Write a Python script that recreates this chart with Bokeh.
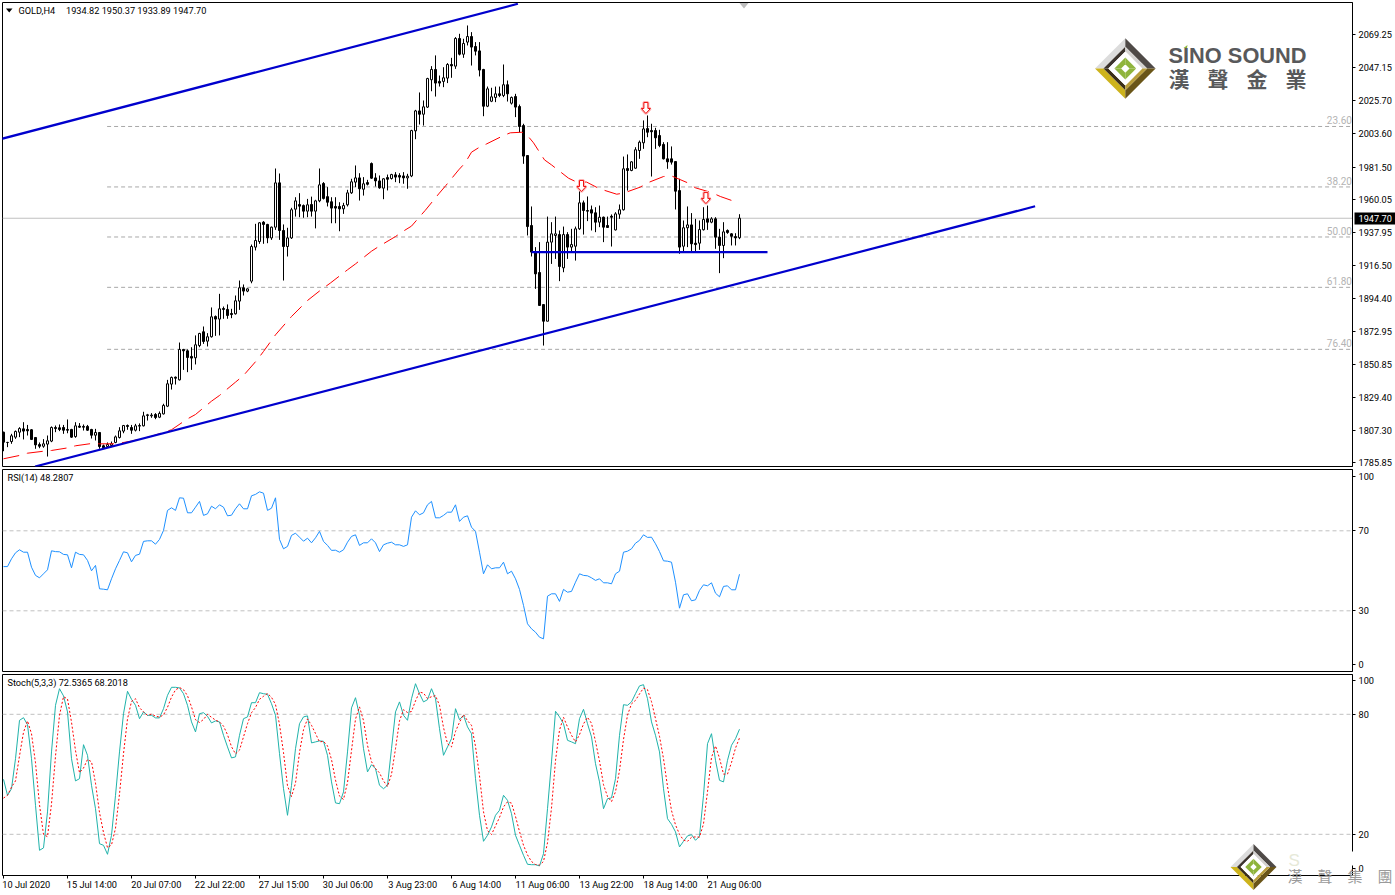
from bokeh.plotting import figure
from bokeh.layouts import column
from bokeh.models import (LinearAxis, FixedTicker, NumeralTickFormatter, Range1d, Label,
                          PolyAnnotation, Span)
from bokeh.embed import file_html
from bokeh.resources import INLINE
from bokeh.core.properties import value

opens = [
1806.2,1799.4,1800.0,1802.9,1806.2,1808.4,1808.0,1807.8,1802.7,1798.0,
1796.9,1798.3,1800.3,1809.3,1809.1,1809.3,1808.0,1808.0,1803.3,1810.2,
1810.0,1810.0,1808.0,1804.2,1806.0,1797.2,1796.7,1797.4,1799.4,1802.7,
1806.9,1810.6,1809.3,1807.5,1810.2,1810.4,1817.2,1817.0,1817.9,1816.1,
1818.3,1823.4,1838.0,1842.6,1840.8,1860.9,1860.0,1856.3,1855.4,1863.5,
1872.6,1866.4,1869.3,1882.7,1881.0,1888.0,1887.4,1884.7,1884.5,1892.9,
1901.7,1899.5,1906.1,1928.6,1932.3,1945.1,1943.6,1934.7,1941.8,1971.1,
1939.6,1929.0,1934.7,1953.7,1956.8,1956.1,1952.4,1956.8,1952.4,1959.2,
1970.7,1962.0,1958.6,1955.5,1955.5,1953.9,1956.6,1964.5,1971.6,1974.4,
1966.9,1971.3,1983.9,1974.4,1972.4,1967.6,1974.6,1974.0,1976.4,1976.0,
1975.7,1974.4,1975.7,2005.5,2018.7,2016.5,2021.2,2039.3,2046.1,2038.2,
2038.2,2040.4,2049.4,2048.3,2066.6,2056.2,2064.2,2067.9,2061.3,2058.4,
2046.1,2021.8,2025.1,2027.6,2030.0,2028.9,2036.0,2023.8,2028.2,2021.6,
2009.0,1989.2,1942.9,1925.3,1911.8,1890.6,1879.6,1931.9,1936.3,1936.9,
1914.9,1936.9,1928.6,1929.2,1940.7,1957.9,1952.8,1953.3,1951.3,1945.1,
1948.4,1942.9,1949.0,1940.0,1950.4,1953.3,1980.6,1979.3,1980.8,1992.5,
1997.6,2007.0,2005.7,2005.7,2002.4,1996.5,1987.0,1987.0,1985.2,1966.0,
1929.2,1941.4,1943.3,1931.2,1931.2,1940.1,1947.3,1945.1,1947.3,1935.2,
1929.7,1939.6,1937.4,1935.6,1934.82]
highs = [
1806.5,1799.8,1805.1,1807.3,1809.5,1812.8,1811.0,1808.2,1802.7,1799.4,
1801.6,1804.0,1810.0,1810.6,1811.3,1811.0,1814.6,1808.4,1812.8,1812.2,
1811.3,1811.0,1808.4,1808.4,1806.2,1798.0,1799.4,1800.0,1804.0,1809.5,
1811.0,1811.3,1811.0,1811.7,1812.0,1819.7,1818.3,1818.8,1818.8,1819.9,
1825.0,1840.8,1843.0,1843.0,1865.5,1861.3,1860.9,1862.4,1870.2,1871.9,
1876.1,1871.7,1888.7,1883.4,1897.7,1889.3,1890.7,1887.8,1896.6,1906.5,
1903.9,1901.3,1930.3,1944.0,1945.1,1945.8,1944.0,1942.2,1980.6,1977.3,
1943.6,1941.4,1954.6,1961.6,1964.3,1956.8,1960.5,1962.0,1959.9,1980.6,
1971.6,1968.3,1961.6,1961.6,1958.3,1957.9,1966.5,1973.8,1982.6,1977.5,
1974.9,1973.1,1984.6,1977.5,1976.0,1974.2,1976.6,1977.1,1978.2,1977.5,
1978.2,1977.1,2006.2,2019.4,2030.9,2025.6,2040.6,2048.3,2055.4,2042.1,
2047.6,2050.3,2053.8,2067.5,2069.7,2066.4,2075.2,2070.8,2064.2,2064.2,
2046.5,2034.8,2034.0,2034.8,2034.8,2049.4,2038.8,2028.2,2030.0,2022.9,
2010.2,1989.2,1955.5,1928.6,1931.9,1890.6,1948.8,1945.1,1948.8,1939.6,
1942.2,1938.5,1940.7,1942.2,1966.0,1959.4,1962.1,1956.1,1955.0,1956.1,
1948.8,1948.8,1950.2,1951.7,1956.8,1988.5,1989.9,1985.5,1994.7,1999.1,
2012.4,2015.7,2010.2,2007.5,2006.2,1998.0,1998.0,1995.2,1985.2,1973.8,
1946.2,1955.5,1951.1,1947.3,1946.2,1955.0,1956.1,1948.4,1948.4,1940.7,
1945.1,1940.3,1937.8,1937.8,1950.37]
lows = [
1793.6,1796.3,1798.5,1801.8,1802.9,1801.4,1804.0,1801.0,1795.2,1795.6,
1795.9,1790.1,1799.6,1806.2,1806.9,1805.1,1805.5,1802.5,1802.5,1809.1,
1807.3,1807.1,1802.0,1800.7,1795.2,1795.0,1795.9,1796.3,1798.9,1802.0,
1805.5,1807.8,1805.1,1806.7,1806.9,1810.0,1813.9,1815.7,1814.8,1815.5,
1817.9,1822.8,1834.4,1837.7,1840.4,1847.4,1845.9,1847.4,1851.0,1862.4,
1864.6,1862.9,1868.8,1869.9,1870.2,1881.2,1881.2,1881.6,1884.0,1887.1,
1896.6,1898.8,1904.7,1926.4,1930.8,1930.8,1931.2,1933.4,1940.0,1933.4,
1906.5,1922.4,1934.0,1948.8,1948.4,1948.0,1948.4,1948.8,1941.0,1958.3,
1960.1,1955.5,1944.4,1944.4,1939.1,1950.6,1955.5,1963.8,1968.3,1959.4,
1962.7,1969.4,1973.8,1968.7,1967.2,1960.3,1966.1,1973.3,1971.6,1970.9,
1970.5,1967.2,1974.9,2000.0,2009.7,2009.0,2020.7,2031.7,2028.2,2034.8,
2034.4,2037.1,2040.6,2046.5,2055.4,2053.8,2062.0,2048.7,2055.4,2041.5,
2015.2,2021.2,2024.5,2024.5,2027.8,2027.8,2024.9,2022.9,2014.6,2004.6,
1983.7,1936.3,1922.4,1901.0,1890.0,1863.5,1879.6,1917.5,1920.8,1906.1,
1912.0,1920.8,1925.3,1919.7,1940.0,1936.9,1945.8,1939.6,1938.5,1941.8,
1931.9,1941.4,1929.0,1939.6,1947.3,1952.8,1966.0,1978.8,1980.4,1987.0,
1993.6,2001.3,1975.3,1993.6,1994.7,1986.6,1980.4,1983.2,1953.5,1924.2,
1925.3,1928.6,1925.9,1925.3,1926.8,1939.6,1940.0,1944.4,1927.5,1911.4,
1921.3,1937.4,1929.7,1929.7,1933.89]
closes = [
1799.6,1799.4,1803.8,1806.7,1808.6,1806.9,1807.1,1801.4,1797.8,1796.9,
1798.5,1800.5,1809.3,1808.6,1808.0,1807.5,1807.5,1802.9,1810.4,1809.5,
1809.5,1807.5,1804.2,1806.0,1796.7,1795.9,1798.0,1798.5,1803.1,1807.1,
1810.6,1810.0,1807.5,1810.4,1810.6,1817.0,1817.7,1817.5,1815.9,1818.6,
1823.9,1838.2,1842.4,1841.9,1860.9,1860.0,1855.6,1855.2,1864.0,1871.5,
1866.2,1869.3,1882.5,1881.0,1887.8,1887.4,1883.4,1884.0,1893.1,1901.7,
1899.5,1901.0,1929.0,1933.0,1944.7,1943.6,1934.7,1941.8,1971.1,1939.6,
1929.0,1934.7,1953.3,1959.2,1955.7,1952.4,1956.6,1952.4,1959.2,1969.8,
1960.8,1958.3,1954.4,1954.4,1953.9,1956.1,1964.5,1971.8,1974.4,1967.2,
1970.5,1970.2,1974.2,1972.4,1967.8,1973.8,1973.5,1976.6,1974.9,1974.9,
1974.4,1975.5,2005.7,2018.7,2016.5,2021.4,2040.1,2046.1,2037.1,2037.1,
2040.6,2049.4,2048.5,2066.6,2056.2,2063.3,2067.9,2060.9,2058.2,2045.7,
2021.8,2033.3,2028.0,2030.0,2028.9,2036.0,2030.0,2027.6,2021.2,2008.4,
1988.8,1942.2,1925.3,1910.9,1890.0,1879.6,1931.9,1937.4,1937.4,1915.8,
1936.9,1928.6,1930.3,1940.7,1957.9,1952.8,1952.4,1951.1,1945.1,1948.4,
1941.8,1941.6,1948.4,1950.6,1953.3,1980.4,1979.3,1985.0,1993.0,1998.0,
2006.8,2004.6,2004.9,2000.9,1995.8,1987.0,1985.0,1984.8,1965.6,1928.6,
1941.4,1943.3,1930.8,1930.3,1940.2,1946.9,1945.1,1947.3,1935.2,1929.7,
1938.7,1938.3,1935.8,1934.7,1947.70]

ma_idx = [0,4,6,10,12,16,18,22,24,28,32,37,42,46,48,52,54,58,60,63.5,65,68,72,76,79.4,
          81.7,86,88,92,93.8,98,99.8,102,103.8,105.4,108.8,110.6,113.8,115.4,117,119,120.8,
          125,126.7,129.6,131,132.5,135.25,137,141.25,143,145.8,149,153.3,155,159.2,161,165,
          167,171.25,173,177,179.2,183.3]
ma_val = [1788.6,1790.8,1792.3,1793.6,1794.1,1795.8,1797.2,1798.7,1798.5,1798.5,1800.3,1803.5,
          1807.8,1815.0,1817.9,1826.7,1830.5,1839.3,1843.7,1854.3,1859.6,1870.6,1882.7,1893.3,1900.4,
          1904.8,1913.6,1917.5,1925.9,1929.0,1935.6,1938.9,1942.5,1948.0,1952.8,1963.8,1969.4,1979.7,
          1984.3,1991.4,1994.7,1996.9,2002.4,2004.2,2004.6,2002.4,1997.6,1986.3,1983.0,1974.2,1972.0,
          1971.6,1967.2,1963.6,1964.3,1968.3,1971.1,1975.3,1975.7,1970.9,1967.8,1964.7,1962.1,1958.3]

rsi = [
52.1,52.1,56.0,59.0,60.5,59.3,59.3,51.8,47.7,46.5,48.5,50.5,60.0,59.6,59.5,58.2,58.0,51.5,59.3,58.2,
58.0,55.2,50.0,52.7,41.0,40.8,40.5,46.0,51.0,55.2,59.5,59.0,54.5,57.7,58.3,64.7,65.0,65.0,63.3,65.7,
70.2,80.2,81.5,80.2,86.5,86.3,79.0,79.0,81.8,84.7,77.7,78.5,82.3,81.0,83.0,81.8,77.5,77.8,81.0,83.5,
81.0,81.0,87.5,88.2,89.5,88.8,80.2,81.3,86.5,65.7,61.0,62.2,67.7,68.8,66.8,64.8,66.3,64.0,66.5,69.7,
64.7,62.7,60.2,60.3,59.3,60.5,64.3,67.2,68.0,62.7,64.0,64.0,66.0,64.0,59.6,63.0,63.8,64.3,63.0,63.0,
62.2,63.0,76.8,80.0,78.0,79.0,83.0,84.7,76.5,76.5,77.7,79.3,79.3,83.0,74.7,76.8,77.5,71.8,69.7,59.3,
48.5,53.0,51.0,51.5,51.5,54.3,48.5,49.8,46.0,40.7,32.7,23.5,21.0,19.3,16.8,16.0,37.3,38.5,38.5,34.7,
40.7,39.3,39.7,44.3,48.5,47.7,47.5,46.5,45.2,46.0,44.0,44.0,43.5,48.5,49.8,59.3,59.8,61.0,63.8,65.2,
68.0,66.7,66.8,63.5,59.6,55.0,54.8,54.3,44.3,31.3,38.0,38.5,35.0,35.5,40.2,43.0,42.5,44.0,38.8,37.0,
42.2,42.5,40.5,40.5,48.28]

stoch_k = [
47.5,39.5,42.8,57.8,77.0,78.3,74.8,57.8,34.5,12.0,13.2,31.2,61.2,84.5,92.8,89.2,81.2,57.8,46.7,47.8,
64.8,59.5,44.5,32.8,15.3,14.5,10.0,19.5,39.5,61.2,80.3,91.5,87.5,84.5,77.8,81.2,79.5,79.5,78.2,78.2,
82.8,89.5,93.5,93.5,93.2,90.3,84.5,76.2,71.2,80.3,80.8,79.0,75.7,76.7,76.2,69.5,63.7,58.2,58.7,69.5,
77.8,78.7,85.8,85.8,90.8,90.3,90.0,85.3,79.5,60.3,42.8,29.5,44.5,62.8,75.3,78.7,79.2,65.7,66.2,66.7,
66.5,59.5,46.2,35.7,35.3,41.2,61.2,83.2,88.3,79.5,62.8,51.2,54.8,52.8,44.5,42.8,44.5,62.8,81.2,86.2,
79.5,77.0,87.8,95.3,90.3,86.2,87.3,92.8,87.8,72.8,59.5,63.7,67.8,82.8,77.3,79.5,73.7,70.3,47.8,29.5,
16.5,19.5,23.7,29.5,32.0,39.5,37.0,30.3,19.5,14.5,9.5,5.0,4.8,4.8,4.2,10.3,32.8,56.2,81.5,78.7,
75.3,67.0,66.2,65.3,77.8,82.5,75.3,68.7,55.3,46.2,32.8,37.8,38.2,47.8,69.5,84.8,84.5,86.2,90.3,94.2,
94.8,87.8,76.2,69.5,61.2,42.8,27.8,25.0,21.2,13.7,16.5,19.2,19.8,17.0,19.0,39.5,65.3,70.3,57.0,47.0,
46.2,57.0,64.5,67.8,72.54]
stoch_d = [
38.1,39.5,43.6,46.7,59.2,71.0,76.7,70.3,55.7,34.8,19.9,18.8,35.2,59.0,79.5,88.8,87.7,76.1,61.9,50.8,
53.1,57.4,56.3,45.6,30.9,20.9,13.3,14.7,23.0,40.1,60.3,77.7,86.4,87.8,83.3,81.2,79.5,80.1,79.1,78.6,
79.7,83.5,88.6,92.2,93.4,92.3,89.3,83.7,77.3,75.9,77.4,80.0,78.5,77.1,76.2,74.1,69.8,63.8,60.2,62.1,
68.7,75.3,80.8,83.4,87.5,89.0,90.4,88.5,84.9,75.0,60.9,44.2,38.9,45.6,60.9,72.3,77.7,74.5,70.4,66.2,
66.5,64.2,57.4,47.1,39.1,37.4,45.9,61.9,77.6,83.7,76.9,64.5,56.3,52.9,50.7,46.7,43.9,50.0,62.8,76.7,
82.3,80.9,81.4,86.7,91.1,90.6,87.9,88.8,89.3,84.5,73.4,65.3,63.7,71.4,76.0,79.9,76.8,74.5,63.9,49.2,
31.3,21.8,19.9,24.2,28.4,33.7,36.2,35.6,28.9,21.4,14.5,9.7,6.4,4.9,4.6,6.4,15.8,33.1,56.8,72.1,
78.5,73.7,69.5,66.2,69.8,75.2,78.5,75.5,66.4,56.7,44.8,38.9,36.3,41.3,51.8,67.4,79.6,85.2,87.0,90.2,
93.1,92.3,86.3,77.8,69.0,57.8,43.9,31.9,24.7,20.0,17.1,16.5,18.5,18.7,18.6,25.2,41.3,58.4,64.2,58.1,
50.1,50.1,55.9,63.1,68.2]

price_ticks = [2069.25,2047.15,2025.70,2003.60,1981.50,1960.05,1937.95,1916.50,1894.40,1872.95,
               1850.85,1829.40,1807.30,1785.85]
fib_names = ["23.60","38.20","50.00","61.80","76.40"]
fib_prices = [2008.4,1968.4,1935.3,1902.0,1861.0]
time_labels = ["10 Jul 2020","15 Jul 14:00","20 Jul 07:00","22 Jul 22:00","27 Jul 15:00","30 Jul 06:00",
               "3 Aug 23:00","6 Aug 14:00","11 Aug 06:00","13 Aug 22:00","18 Aug 14:00","21 Aug 06:00"]
time_ticks = [0,16,32,48,64,80,96,112,128,144,160,176]
time_label_shift = [5.7,6.1,6.2,6.1,6.1,6.1,6.3,6.3,6.75,6.75,6.75,6.75]

upper_idx, upper_val = [-0.5,128.6], [2000.2,2089.6]
lower_idx, lower_val = [7.9,257.9], [1783.5,1955.6]
neck_idx, neck_val = [132,191], [1925.3,1925.3]
arrow_idx = [160.6,144.5,175.6]
arrow_tip = [2017.0,1965.4,1957.4]
last_price = 1947.70

FONT = "Roboto"
FS = "9.2px"
PX_W = 1350
X0, X1 = -0.25, 337.25
xr = Range1d(X0, X1)
MAIN_Y = (1783.5, 2090.4)
BLUE = "#0000cd"

def make(frame_h, yr, top, bottom):
    p = figure(frame_width=PX_W, frame_height=frame_h, x_range=xr, y_range=Range1d(*yr),
               output_backend="svg", toolbar_location=None, x_axis_location=None,
               y_axis_location="right", min_border_left=2, min_border_right=43,
               min_border_top=top, min_border_bottom=bottom,
               background_fill_color="white", border_fill_color="white")
    p.grid.visible = False
    p.outline_line_color = "black"
    p.outline_line_width = 1
    ax = p.yaxis[0]
    ax.axis_line_color = "black"
    ax.major_tick_in = 0
    ax.major_tick_out = 3
    ax.minor_tick_line_color = None
    ax.major_label_standoff = 3
    ax.major_label_text_font = FONT
    ax.major_label_text_font_size = FS
    ax.major_label_text_color = "black"
    return p

def txt(p, x, y, s, color="black", size=FS, font=FONT, **kw):
    p.add_layout(Label(x=x, y=y, x_units="canvas", y_units="canvas", text=s, text_color=color,
                       text_font=font, text_font_size=size, text_baseline="middle", **kw))

def poly(p, pts, color, alpha=1.0, level="annotation"):
    p.add_layout(PolyAnnotation(xs=[a for a, _ in pts], ys=[b for _, b in pts],
                                xs_units="canvas", ys_units="canvas", fill_color=color, fill_alpha=alpha,
                                line_color=None, level=level))

def ring(p, cx, cy, h, r1, r2, colors):
    tl, tr, bl, br = colors
    for (sx, sy, c) in ((-1, -1, tl), (1, -1, tr), (-1, 1, bl), (1, 1, br)):
        poly(p, [(cx + sx*r1*h, cy), (cx, cy + sy*r1*h), (cx, cy + sy*r2*h), (cx + sx*r2*h, cy)], c)

def logo(p, cx, cy, h):
    ring(p, cx, cy, h, 1.0, 0.72, ("#dcdcdc", "#4f4a47", "#cdb31c", "#6a5518"))
    ring(p, cx, cy, h, 0.72, 0.56, ("#3b332d", "#d4d2d0", "#3a2e18", "#b99d3a"))
    ring(p, cx, cy, h, 0.56, 0.36, ("#ffffff", "#ffffff", "#ffffff", "#ffffff"))
    ring(p, cx, cy, h, 0.36, 0.14, ("#8fb43c", "#8fb43c", "#8fb43c", "#8fb43c"))

# ---------- main price panel
main = make(464, MAIN_Y, 2, 1)
main.yaxis[0].ticker = FixedTicker(ticks=price_ticks)
main.yaxis[0].formatter = NumeralTickFormatter(format="0.00")

idx = list(range(len(closes)))
up = [c >= o for o, c in zip(opens, closes)]
body_top = [max(o, c) for o, c in zip(opens, closes)]
body_bot = [min(o, c) for o, c in zip(opens, closes)]
main.add_layout(Span(location=last_price, dimension="width", line_color="#c0c0c0", line_width=1, level="underlay"))
for nm, lv in zip(fib_names, fib_prices):
    main.line([25.9, X1], [lv, lv], line_color="#a8a8a8", line_width=1, line_dash="4 3", level="underlay")
main.text([337.1]*len(fib_prices), [v + 1.6 for v in fib_prices], fib_names, text_align="right",
          text_baseline="bottom", text_font=value(FONT), text_font_size="10px", text_color="#b4b4b4")
main.segment(idx, highs, idx, lows, line_color="black", line_width=1)
main.vbar(idx, 0.5, body_top, body_bot, fill_color=["white" if u else "black" for u in up],
          line_color="black", line_width=1)
main.line(ma_idx, ma_val, line_color="#ff0000", line_width=1, line_dash="16 8")
main.line(upper_idx, upper_val, line_color=BLUE, line_width=2.2)
main.line(lower_idx, lower_val, line_color=BLUE, line_width=2.2)
main.line(neck_idx, neck_val, line_color=BLUE, line_width=2.2)
# hollow arrows, built around their tips (4 px per bar, 0.6615 price per px)
axs, ays = [], []
for ti, tp in zip(arrow_idx, arrow_tip):
    shape = [(0, 0), (-4.5, 5), (-2, 5), (-2, 11), (2, 11), (2, 5), (4.5, 5)]
    axs.append([ti + a/4 for a, _ in shape])
    ays.append([tp + b*0.6615 for _, b in shape])
main.patches(axs, ays, fill_color=None, line_color="#ffb4b4", line_width=3)
main.patches(axs, ays, fill_color="white", line_color="#f01010", line_width=1)

poly(main, [(5.5, 8), (12, 8), (8.7, 12)], "black")
poly(main, [(739, 2.5), (748, 2.5), (743.5, 8)], "#bdbdbd")
txt(main, 18, 10, "GOLD,H4")
txt(main, 65.5, 10, "1934.82 1950.37 1933.89 1947.70")
# company mark
logo(main, 1124.8, 68, 30.3)
poly(main, [(1183, 47.5), (1187, 44.5), (1186.5, 47.5)], "#8fb43c")
txt(main, 1168, 55, "SINO SOUND", color="#58595b", size="21.8px", font="Liberation Sans", text_font_style="bold")
for cx, ch in zip((1168, 1207, 1246, 1285), "漢聲金業"):
    txt(main, cx, 77, ch, color="#58595b", size="21px", font="Noto Sans CJK TC", text_font_style="bold")

# ---------- RSI panel
rsi_p = make(202, (-0.35, 100.65), 2, 1)
rsi_p.yaxis[0].ticker = FixedTicker(ticks=[97.2, 70, 30, 3.2])
rsi_p.yaxis[0].major_label_overrides = {97.2: "100", 70: "70", 30: "30", 3.2: "0"}
for lv in (70, 30):
    rsi_p.line([X0, X1], [lv, lv], line_color="#c0c0c0", line_width=1, line_dash="4 3", level="underlay")
rsi_p.line(idx, rsi, line_color="#1e90ff", line_width=1)
txt(rsi_p, 7, 9.5, "RSI(14) 48.2807")

# ---------- Stochastic panel
st_p = make(201, (-0.6, 99.9), 2, 19)
st_p.yaxis[0].ticker = FixedTicker(ticks=[97, 80, 20, 3])
st_p.yaxis[0].major_label_overrides = {97: "100", 80: "80", 20: "20", 3: "0"}
for lv in (80, 20):
    st_p.line([X0, X1], [lv, lv], line_color="#c0c0c0", line_width=1, line_dash="4 3", level="underlay")
st_p.line(idx, stoch_k, line_color="#20b2aa", line_width=1)
st_p.line(idx, stoch_d, line_color="#ff0000", line_width=1, line_dash="2 2")
txt(st_p, 7, 9.5, "Stoch(5,3,3) 72.5365 68.2018")

tick_ax = LinearAxis(ticker=FixedTicker(ticks=time_ticks), major_tick_in=0, major_tick_out=3,
                     minor_tick_line_color=None, axis_line_color=None,
                     major_label_overrides={t: "" for t in time_ticks},
                     major_label_text_font_size="1px", major_label_standoff=0)
st_p.add_layout(tick_ax, "below")
centers = [t + s for t, s in zip(time_ticks, time_label_shift)]
lab_ax = LinearAxis(ticker=FixedTicker(ticks=centers), major_tick_in=0, major_tick_out=0,
                    major_tick_line_color=None, minor_tick_line_color=None, axis_line_color=None,
                    major_label_overrides=dict(zip(centers, time_labels)),
                    major_label_text_font=FONT, major_label_text_font_size=FS,
                    major_label_text_color="black", major_label_standoff=0)
st_p.add_layout(lab_ax, "below")

# ---------- transparent sheet over the page, for marks that sit across the panel edges
sheet = figure(frame_width=1395, frame_height=895, x_range=(0, 1395), y_range=(0, 895),
               output_backend="svg", toolbar_location=None, x_axis_location=None, y_axis_location=None,
               min_border=0, background_fill_alpha=0, border_fill_alpha=0,
               styles={"position": "absolute", "left": "0px", "top": "0px", "pointer-events": "none"})
sheet.grid.visible = False
sheet.outline_line_color = None
poly(sheet, [(1354, 212), (1395, 212), (1395, 224), (1354, 224)], "black")
txt(sheet, 1358, 218, "1947.70", color="white")
poly(sheet, [(1350, 851), (1355, 851), (1355, 865), (1350, 865)], "white")
logo(sheet, 1253, 866.5, 23)
txt(sheet, 1288, 860, "S", color="#e6e9d8", size="17px", font="Liberation Sans")
for cx, ch in zip((1287, 1317, 1347, 1377), "漢聲集團"):
    txt(sheet, cx, 875, ch, color="#9a9a9a", size="15px", font="Noto Sans CJK TC")

layout = column(main, rsi_p, st_p, sheet, spacing=0,
                styles={"position": "absolute", "left": "-0.5px", "top": "-0.5px"})
open("out.html", "w").write(file_html(layout, INLINE))
